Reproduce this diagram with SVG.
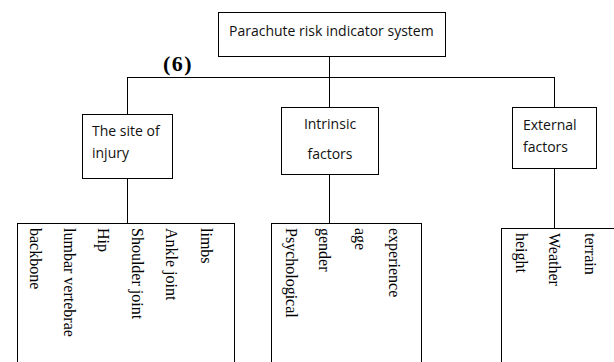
<svg xmlns="http://www.w3.org/2000/svg" width="614" height="362" viewBox="0 0 614 362">
<style>
.box{fill:#fff;stroke:#000;stroke-width:1}
.lbl{font-family:"Open Sans","Noto Sans",sans-serif;font-size:14px;fill:#111}
.v{font-family:"Liberation Serif","Times New Roman",serif;font-size:16px;fill:#000}
.conn line{stroke:#000;stroke-width:1}
</style>
<rect width="614" height="362" fill="#fff"/>
<g class="conn" id="connectors">
<line x1="329.5" y1="56" x2="329.5" y2="77.5"/>
<line x1="127" y1="77.5" x2="554.5" y2="77.5"/>
<line x1="127.5" y1="77" x2="127.5" y2="114"/>
<line x1="329.5" y1="77" x2="329.5" y2="107"/>
<line x1="554.5" y1="77" x2="554.5" y2="107"/>
<line x1="127.5" y1="178" x2="127.5" y2="223"/>
<line x1="329.5" y1="174" x2="329.5" y2="223"/>
<line x1="554.5" y1="168" x2="554.5" y2="228"/>
</g>
<g id="root">
<rect class="box" x="218.5" y="12.5" width="227" height="44"/>
<text class="lbl" x="229" y="36">Parachute risk indicator system</text>
</g>
<text x="163" y="71" font-family="Liberation Serif, Times New Roman, serif" font-size="22" font-weight="bold" letter-spacing="1.5">(6)</text>
<g id="site">
<rect class="box" x="82.5" y="114.5" width="90" height="64"/>
<text class="lbl" x="92" y="136">The site of</text>
<text class="lbl" x="92" y="158">injury</text>
</g>
<g id="intrinsic">
<rect class="box" x="281.5" y="107.5" width="97" height="67"/>
<text class="lbl" x="330" y="129" text-anchor="middle">Intrinsic</text>
<text class="lbl" x="330" y="159" text-anchor="middle">factors</text>
</g>
<g id="external">
<rect class="box" x="512.5" y="107.5" width="84" height="61"/>
<text class="lbl" x="523" y="130">External</text>
<text class="lbl" x="523" y="152">factors</text>
</g>
<g id="site-items">
<rect class="box" x="17.5" y="223.5" width="217" height="150"/>
<text class="v" transform="translate(30,228) rotate(90)">backbone</text>
<text class="v" transform="translate(64,228) rotate(90)">lumbar vertebrae</text>
<text class="v" transform="translate(98,228) rotate(90)">Hip</text>
<text class="v" transform="translate(132,228) rotate(90)">Shoulder joint</text>
<text class="v" transform="translate(166,228) rotate(90)">Ankle joint</text>
<text class="v" transform="translate(201,228) rotate(90)">limbs</text>
</g>
<g id="intrinsic-items">
<rect class="box" x="271.5" y="223.5" width="150" height="150"/>
<text class="v" transform="translate(286,228) rotate(90)">Psychological</text>
<text class="v" transform="translate(319,228) rotate(90)">gender</text>
<text class="v" transform="translate(355,228) rotate(90)">age</text>
<text class="v" transform="translate(389,228) rotate(90)">experience</text>
</g>
<g id="external-items">
<rect class="box" x="501.5" y="228.5" width="130" height="150"/>
<text class="v" transform="translate(516,233) rotate(90)">height</text>
<text class="v" transform="translate(549,233) rotate(90)">Weather</text>
<text class="v" transform="translate(585,233) rotate(90)">terrain</text>
</g>
</svg>
